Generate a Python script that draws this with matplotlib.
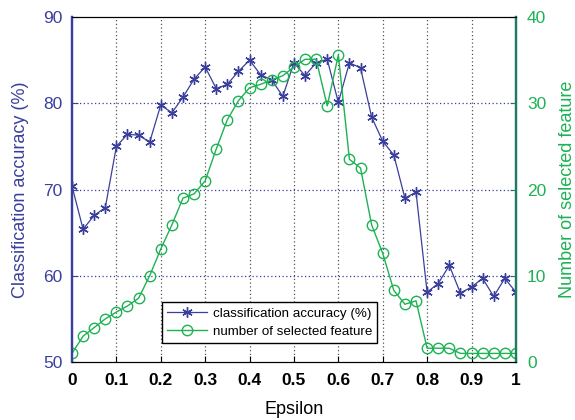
import matplotlib
matplotlib.use("Agg")
import matplotlib.pyplot as plt
import numpy as np

plt.rcParams['font.family'] = ['Liberation Sans', 'DejaVu Sans']

epsilon = [i * 0.025 for i in range(41)]
accuracy = [70.4, 65.4, 67.0, 67.9, 75.0, 76.4, 76.3, 75.5, 79.8, 78.9,
            80.7, 82.8, 84.2, 81.7, 82.2, 83.7, 85.0, 83.3, 82.7, 80.8,
            84.7, 83.2, 84.7, 85.1, 80.1, 84.7, 84.1, 78.4, 75.6, 74.0,
            69.0, 69.7, 58.1, 59.1, 61.2, 58.0, 58.7, 59.7, 57.6, 59.7, 58.1]
n_features = [1.0, 3.0, 4.0, 5.0, 5.8, 6.5, 7.4, 10.0, 13.1, 15.9,
              19.0, 19.5, 21.0, 24.7, 28.1, 30.3, 31.8, 32.2, 32.7, 33.2,
              34.2, 35.1, 35.1, 29.7, 35.6, 23.5, 22.5, 15.9, 12.6, 8.3,
              6.7, 7.1, 1.6, 1.6, 1.6, 1.0, 1.0, 1.0, 1.0, 1.0, 1.0]
xticks = [0, 0.1, 0.2, 0.3, 0.4, 0.5, 0.6, 0.7, 0.8, 0.9, 1]
xticklabels = ['0', '0.1', '0.2', '0.3', '0.4', '0.5', '0.6', '0.7', '0.8', '0.9', '1']
left_ticks = [50, 60, 70, 80, 90]
right_ticks = [0, 10, 20, 30, 40]

blue = '#3a3f9c'
green = '#1db253'
teal = '#1f7a68'

fig = plt.figure(figsize=(5.75, 4.2), dpi=100)
ax = fig.add_axes([0.1252, 0.138, 0.772, 0.8215])
ax2 = ax.twinx()

# grids
for xv in xticks[1:-1]:
    ax.axvline(xv, color='#555555', linestyle=(0, (1, 2)), linewidth=0.9, zorder=0)
for yv in left_ticks[1:-1]:
    ax.axhline(yv, color=blue, linestyle=(0, (1, 2)), linewidth=0.9, zorder=0)

l1, = ax.plot(epsilon, accuracy, color=blue, marker=(6, 2, 0), markersize=7.5,
              linewidth=0.9, markeredgewidth=1.0, label='classification accuracy (%)')
l2, = ax2.plot(epsilon, n_features, color=green, marker='o', markersize=7.5,
               markerfacecolor='none', markeredgewidth=1.0, linewidth=1.0,
               label='number of selected feature')

ax.set_xlim(0, 1)
ax.set_ylim(50, 90)
ax2.set_ylim(0, 40)
ax.set_xticks(xticks)
ax.set_xticklabels(xticklabels, fontsize=12.5, fontweight='bold')
ax.set_yticks(left_ticks)
ax.set_yticklabels([str(v) for v in left_ticks], fontsize=12.5, color=blue)
ax2.set_yticks(right_ticks)
ax2.set_yticklabels([str(v) for v in right_ticks], fontsize=12.5, color=green)

ax.tick_params(axis='x', direction='in', length=4, pad=8)
ax.tick_params(axis='y', direction='in', length=4, color=blue, pad=7)
ax2.tick_params(axis='y', direction='in', length=4, color=teal, pad=8)

ax.set_xlabel('Epsilon', fontsize=13, labelpad=9)
ax.set_ylabel('Classification accuracy (%)', fontsize=13, color=blue, labelpad=10)
ax2.set_ylabel('Number of selected feature', fontsize=13, color=green, labelpad=9)

for a in (ax, ax2):
    a.spines['left'].set_color(blue)
    a.spines['left'].set_linewidth(1.6)
    a.spines['right'].set_color(teal)
    a.spines['right'].set_linewidth(1.6)
    a.spines['top'].set_color('black')
    a.spines['bottom'].set_color('black')
ax.patch.set_visible(False)

leg = ax2.legend(handles=[l1, l2], loc='lower left', bbox_to_anchor=(0.203, 0.055),
                 fontsize=9.6, frameon=True, fancybox=False, edgecolor='black',
                 framealpha=1, borderpad=0.4, handlelength=3.0, labelspacing=0.4,
                 handletextpad=0.4, borderaxespad=0)
leg.get_frame().set_linewidth(1.0)

fig.savefig('out.png', dpi=100)
